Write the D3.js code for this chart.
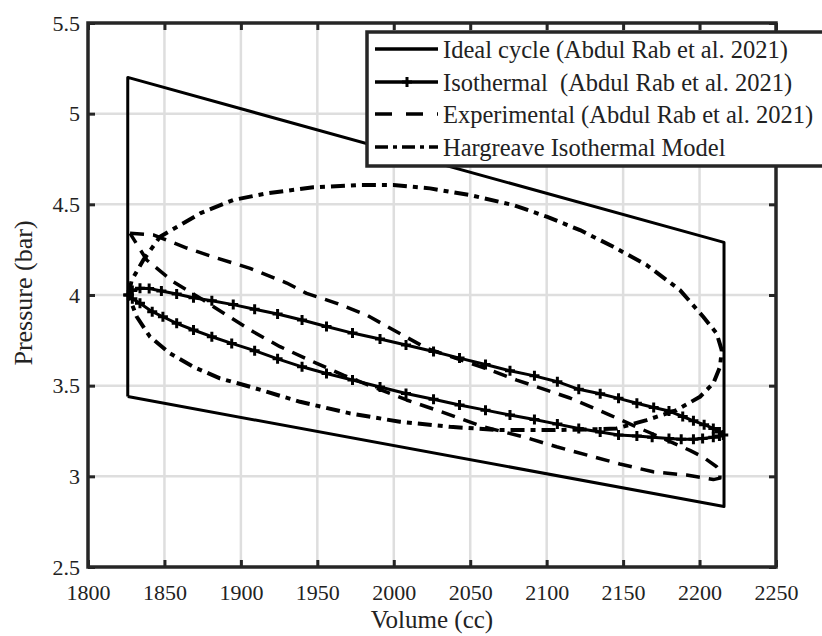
<!DOCTYPE html>
<html>
<head>
<meta charset="utf-8">
<script src="https://cdn.jsdelivr.net/npm/d3@7"></script>
<style>
  body { margin: 0; background: #fff; }
  svg { display: block; }
  text { font-family: "Liberation Serif", "DejaVu Serif", serif; fill: #222; }
</style>
</head>
<body>
<svg width="822" height="636"></svg>
<script>
// ---- data ----
const xTicks = [1800, 1850, 1900, 1950, 2000, 2050, 2100, 2150, 2200, 2250];
const yTicks = [2.5, 3, 3.5, 4, 4.5, 5, 5.5];

const idealV = [1826, 1826, 2216, 2216, 1826];
const idealP = [3.44, 5.20, 4.29, 2.834, 3.44];

// isothermal: upper branch left->right, then lower branch right->left
const isoV = [1826.4, 1829, 1834, 1840, 1848, 1858, 1869, 1881, 1895, 1909, 1924, 1940, 1956, 1973, 1991, 2008, 2026, 2043, 2060, 2076, 2092, 2107, 2121, 2135, 2147, 2159, 2170, 2180, 2189, 2196, 2203, 2209, 2213, 2215.5,
              2213, 2209, 2202, 2196, 2188, 2180, 2169, 2159, 2147, 2135, 2121, 2107, 2092, 2076, 2060, 2043, 2026, 2008, 1991, 1973, 1956, 1940, 1924, 1909, 1894, 1881, 1869, 1858, 1849, 1842, 1834, 1829, 1826.4];
const isoP = [4.000, 4.025, 4.037, 4.036, 4.022, 4.005, 3.985, 3.968, 3.947, 3.921, 3.895, 3.862, 3.826, 3.790, 3.757, 3.724, 3.688, 3.652, 3.617, 3.582, 3.554, 3.522, 3.480, 3.455, 3.430, 3.403, 3.380, 3.360, 3.330, 3.306, 3.285, 3.264, 3.245, 3.228,
              3.222, 3.215, 3.209, 3.205, 3.204, 3.208, 3.215, 3.222, 3.228, 3.245, 3.264, 3.288, 3.313, 3.338, 3.365, 3.393, 3.425, 3.457, 3.493, 3.531, 3.567, 3.604, 3.648, 3.693, 3.733, 3.770, 3.807, 3.844, 3.880, 3.908, 3.954, 3.980, 4.000];

// experimental: upper branch left->right, hook, lower branch right->left
const expV = [1827.5, 1842.7, 1864.6, 1884.2, 1906, 1930, 1943, 1962.7, 1982.3, 2001.9, 2021.5, 2058.5, 2080.4, 2115.2, 2141.4, 2161, 2176.3, 2193.7, 2202.4, 2211.2, 2213.3, 2213.3, 2209, 2191.5, 2169.7, 2147.9, 2106.5, 2084.7, 2058.5, 2028, 2008.4, 1967, 1949.6, 1925.6, 1908.1, 1890.7, 1875.4, 1855.8, 1838.4, 1827.5];
const expP = [4.340, 4.331, 4.259, 4.204, 4.147, 4.066, 4.009, 3.954, 3.889, 3.797, 3.706, 3.600, 3.531, 3.432, 3.338, 3.264, 3.209, 3.143, 3.106, 3.053, 3.030, 2.990, 2.982, 3.007, 3.025, 3.068, 3.163, 3.218, 3.273, 3.365, 3.421, 3.558, 3.623, 3.715, 3.797, 3.889, 3.972, 4.073, 4.193, 4.340];

// Hargreave isothermal model (closed loop)
const hargV = [1826.4, 1828.6, 1836.2, 1847.1, 1873.3, 1895, 1916.9, 1947.4, 1977.9, 1999.7, 2023.7, 2049.8, 2078.2, 2100, 2121.8, 2143.6, 2165.4, 2187.2, 2202.4, 2211.2, 2214.5, 2213.4, 2209, 2200.3, 2185, 2165.4, 2145.8, 2134.9, 2102.2, 2069.5, 2036.8, 2004, 1971.4, 1938.7, 1906, 1886.3, 1868.9, 1853.6, 1840.5, 1831.9, 1826.4];
const hargP = [4.000, 4.082, 4.193, 4.321, 4.450, 4.524, 4.561, 4.594, 4.606, 4.606, 4.588, 4.551, 4.496, 4.432, 4.358, 4.266, 4.165, 4.027, 3.880, 3.788, 3.696, 3.604, 3.513, 3.439, 3.365, 3.310, 3.264, 3.260, 3.255, 3.255, 3.273, 3.301, 3.347, 3.411, 3.494, 3.540, 3.604, 3.678, 3.770, 3.880, 4.000];

const legendLabels = [
    "Ideal cycle (Abdul Rab et al. 2021)",
    "Isothermal  (Abdul Rab et al. 2021)",
    "Experimental (Abdul Rab et al. 2021)",
    "Hargreave Isothermal Model"
];

function zip(vs, ps) {
    return vs.map((v, i) => ({ v: v, p: ps[i] }));
}

const attr = {
    left: 88,
    top: 23,
    width: 688,
    height: 544
};

const svg = d3.select("svg");

const scX = d3.scaleLinear().domain([1800, 2250]).range([0, attr.width]);
const scY = d3.scaleLinear().domain([2.5, 5.5]).range([attr.height, 0]);

const plot = svg.append("g")
    .attr("transform", `translate(${attr.left},${attr.top})`);

// grid
plot.append("g").selectAll("line")
    .data(xTicks.slice(1, -1))
    .enter()
    .append("line")
    .attr("x1", d => scX(d)).attr("x2", d => scX(d))
    .attr("y1", 0).attr("y2", attr.height)
    .attr("stroke", "#dedede").attr("stroke-width", 2.5);

plot.append("g").selectAll("line")
    .data(yTicks.slice(1, -1))
    .enter()
    .append("line")
    .attr("y1", d => scY(d)).attr("y2", d => scY(d))
    .attr("x1", 0).attr("x2", attr.width)
    .attr("stroke", "#dedede").attr("stroke-width", 2.5);

const line = d3.line()
    .x(d => scX(d.v))
    .y(d => scY(d.p));

function drawSeries(data, dash, width) {
    plot.append("path")
        .datum(data)
        .attr("fill", "none")
        .attr("stroke", "#000")
        .attr("stroke-width", width)
        .attr("stroke-linejoin", "round")
        .attr("stroke-dasharray", dash)
        .attr("d", line);
}

drawSeries(zip(idealV, idealP), null, 3);
drawSeries(zip(hargV, hargP), "14,6,5,6", 4);
drawSeries(zip(expV, expP), "14,9", 3.5);

const isoData = zip(isoV, isoP);
drawSeries(isoData, null, 3);

plot.append("g").selectAll("path")
    .data(isoData)
    .enter()
    .append("path")
    .attr("d", "M-5,0H5M0,-5V5")
    .attr("transform", d => `translate(${scX(d.v)},${scY(d.p)})`)
    .attr("stroke", "#000")
    .attr("stroke-width", 3);

// axes
const axisStyle = g => {
    g.select(".domain").remove();
    g.selectAll(".tick line").attr("stroke", "#262626").attr("stroke-width", 3);
    g.selectAll(".tick text").style("font-size", "22px").attr("fill", "#222");
};

plot.append("g")
    .attr("transform", `translate(0,${attr.height})`)
    .call(d3.axisBottom(scX).tickValues(xTicks).tickSizeInner(-7).tickSizeOuter(0).tickPadding(17).tickFormat(d3.format("d")))
    .call(axisStyle);

plot.append("g")
    .call(d3.axisTop(scX).tickValues(xTicks).tickSizeInner(-7).tickSizeOuter(0).tickFormat(""))
    .call(axisStyle);

plot.append("g")
    .call(d3.axisLeft(scY).tickValues(yTicks).tickSizeInner(-7).tickSizeOuter(0).tickPadding(8).tickFormat(d => d))
    .call(axisStyle);

plot.append("g")
    .attr("transform", `translate(${attr.width},0)`)
    .call(d3.axisRight(scY).tickValues(yTicks).tickSizeInner(-7).tickSizeOuter(0).tickFormat(""))
    .call(axisStyle);

plot.append("rect")
    .attr("width", attr.width)
    .attr("height", attr.height)
    .attr("fill", "none")
    .attr("stroke", "#262626")
    .attr("stroke-width", 3.5);

// axis titles
svg.append("text")
    .attr("x", attr.left + attr.width / 2)
    .attr("y", 628)
    .attr("text-anchor", "middle")
    .style("font-size", "25px")
    .text("Volume (cc)");

svg.append("text")
    .attr("transform", `translate(32,${attr.top + attr.height / 2 - 2}) rotate(-90)`)
    .attr("text-anchor", "middle")
    .style("font-size", "26px")
    .text("Pressure (bar)");

// legend
const legend = svg.append("g").attr("transform", "translate(367,32)");

legend.append("rect")
    .attr("width", 480)
    .attr("height", 134)
    .attr("fill", "#fff")
    .attr("stroke", "#262626")
    .attr("stroke-width", 3.5);

const rowY = [17, 50, 82, 115];
const rowDash = [null, null, "17,14", "13,5,4,5"];

legendLabels.forEach((label, i) => {
    legend.append("line")
        .attr("x1", 8).attr("x2", 71)
        .attr("y1", rowY[i]).attr("y2", rowY[i])
        .attr("stroke", "#000")
        .attr("stroke-width", 3.5)
        .attr("stroke-dasharray", rowDash[i]);
    if (i === 1) {
        legend.append("path")
            .attr("d", "M-5,0H5M0,-5V5")
            .attr("transform", `translate(40,${rowY[i]})`)
            .attr("stroke", "#000")
            .attr("stroke-width", 3);
    }
    legend.append("text")
        .attr("x", 76)
        .attr("y", rowY[i])
        .attr("dy", "0.35em")
        .style("font-size", "24.5px")
        .style("white-space", "pre")
        .text(label);
});
</script>
</body>
</html>
